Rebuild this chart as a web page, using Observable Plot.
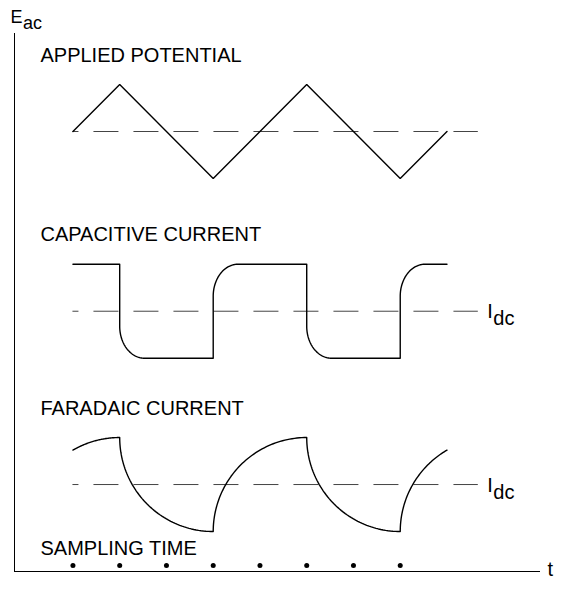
<!DOCTYPE html>
<html>
<head>
<meta charset="utf-8">
<script src="https://cdn.jsdelivr.net/npm/d3@7"></script>
<script src="https://cdn.jsdelivr.net/npm/@observablehq/plot@0.6"></script>
<style>
  html, body { margin: 0; padding: 0; background: #fff; }
  svg { display: block; }
</style>
</head>
<body>
<div id="chart"></div>
<script>
// ---- data (time in sampling intervals, signal in units of its amplitude) ----
const sampleTimes = [0, 1, 2, 3, 4, 5, 6, 7];

const potentialT = [0, 1, 3, 5, 7, 8];
const potentialV = [0, 1, -1, 1, -1, 0];

const capacitiveT = [0, 1, 1, 1.53, 3, 3, 3.53, 5, 5, 5.53, 7, 7, 7.53, 8];
const capacitiveV = [1, 1, -0.32, -1, -1, 0.32, 1, 1, -0.32, -1, -1, 0.32, 1, 1];

// faradaic current: extremes of each arc (shown only over the potential's span)
const faradaicT = [-1, 1, 3, 5, 7, 9];
const faradaicV = [-1, 1, -1, 1, -1, 1];

const panelLabels = ["APPLIED POTENTIAL", "CAPACITIVE CURRENT", "FARADAIC CURRENT"];
const samplingLabel = "SAMPLING TIME";
const yAxisLabel = ["E", "ac"];
const dcLabel = ["I", "dc"];
const xAxisLabel = "t";

// ---- layout (positions of the stacked panels on the shared y scale) ----
const layout = {
  width: 582, height: 602,
  marginLeft: 14, marginRight: 42, marginTop: 33, marginBottom: 31,
  base: [0, -3.823, -7.51],   // potential, capacitive, faradaic zero lines
  sampleRow: -9.233,
  xMin: -1.25, xMax: 10,
  yMin: -9.36, yMax: 2.085,
  labelX: -0.695,
  dashEnd: 8.67
};

// pixel position of a time value (same mapping as the plot's x scale)
const xPx = t => layout.marginLeft + (t - layout.xMin) / (layout.xMax - layout.xMin) *
  (layout.width - layout.marginLeft - layout.marginRight);

// curve: each join leaves a vertex vertically and arrives at the next horizontally
// (quarter ellipse), drawn only between pixel columns xa and xb
const arcCurve = (xa = -Infinity, xb = Infinity) => (context) => {
  let pts;
  return {
    areaStart() {}, areaEnd() {},
    lineStart() { pts = []; },
    point(x, y) { pts.push([+x, +y]); },
    lineEnd() {
      let started = false;
      const emit = (x, y) => {
        if (!started) { context.moveTo(x, y); started = true; } else context.lineTo(x, y);
      };
      for (let i = 1; i < pts.length; ++i) {
        const [x0, y0] = pts[i - 1], [x1, y1] = pts[i];
        const a = x1 - x0, b = y1 - y0;
        if (a === 0) {
          if (x0 >= xa && x0 <= xb) { emit(x0, y0); emit(x1, y1); }
          continue;
        }
        const lo = Math.max(x0, xa), hi = Math.min(x1, xb);
        if (hi < lo) continue;
        if (b === 0) { emit(lo, y0); emit(hi, y1); continue; }
        const th0 = Math.acos(Math.min(1, Math.max(0, (x1 - lo) / a)));
        const th1 = Math.acos(Math.min(1, Math.max(0, (x1 - hi) / a)));
        const n = 60;
        for (let j = 0; j <= n; ++j) {
          const th = th0 + (th1 - th0) * j / n;
          emit(x1 - a * Math.cos(th), y0 + b * Math.sin(th));
        }
      }
    }
  };
};

const potential = potentialT.map((t, i) => ({t, v: potentialV[i] + layout.base[0]}));
const capacitive = capacitiveT.map((t, i) => ({t, v: capacitiveV[i] + layout.base[1]}));
const faradaic = faradaicT.map((t, i) => ({t, v: faradaicV[i] + layout.base[2]}));
const samples = sampleTimes.map(t => ({t, v: layout.sampleRow}));
const titles = panelLabels.map((label, i) => ({label, v: layout.base[i]}));
const dcRows = [layout.base[1], layout.base[2]].map(v => ({v}));
const baseRows = layout.base.map(v => ({v}));
const [tA, tB] = d3.extent(potentialT);

const font = "'Liberation Sans', Arial, Helvetica, sans-serif";
const ink = "black";

const plot = Plot.plot({
  width: layout.width,
  height: layout.height,
  marginLeft: layout.marginLeft, marginRight: layout.marginRight,
  marginTop: layout.marginTop, marginBottom: layout.marginBottom,
  x: {domain: [layout.xMin, layout.xMax], axis: null},
  y: {domain: [layout.yMin, layout.yMax], axis: null},
  style: {fontFamily: font, fontSize: "20px", background: "white", color: ink, overflow: "visible"},
  marks: [
    Plot.ruleX([layout.xMin], {stroke: ink, strokeWidth: 1}),
    Plot.ruleY([layout.yMin], {stroke: ink, strokeWidth: 1}),
    Plot.ruleY(baseRows, {x1: 0, x2: layout.dashEnd, y: "v", stroke: "#444", strokeWidth: 1,
      strokeDasharray: "25,15", strokeDashoffset: 19}),
    Plot.line(potential, {x: "t", y: "v", stroke: ink, strokeWidth: 1.4, strokeLinejoin: "miter"}),
    Plot.line(capacitive, {x: "t", y: "v", stroke: ink, strokeWidth: 1.4, curve: arcCurve()}),
    Plot.line(faradaic, {x: "t", y: "v", stroke: ink, strokeWidth: 1.4,
      curve: arcCurve(xPx(tA), xPx(tB))}),
    Plot.dot(samples, {x: "t", y: "v", r: 2.5, fill: ink, stroke: null}),
    Plot.text(titles, {x: layout.labelX, y: "v", text: "label", textAnchor: "start", lineAnchor: "bottom",
      dy: -70, fontSize: 20, fill: ink}),
    Plot.text([samplingLabel], {x: layout.labelX, y: layout.sampleRow, text: d => d, textAnchor: "start",
      lineAnchor: "bottom", dy: -11, fontSize: 20, fill: ink}),
    Plot.text([yAxisLabel[0]], {x: layout.xMin, y: layout.yMax, text: d => d, textAnchor: "start",
      lineAnchor: "bottom", dx: -4, dy: -11, fontSize: 18, fill: ink}),
    Plot.text([yAxisLabel[1]], {x: layout.xMin, y: layout.yMax, text: d => d, textAnchor: "start",
      lineAnchor: "bottom", dx: 8.5, dy: -5, fontSize: 18, fill: ink}),
    Plot.text(dcRows, {x: layout.dashEnd, y: "v", text: () => dcLabel[0], textAnchor: "start",
      lineAnchor: "bottom", dx: 9, dy: 7, fontSize: 20, fill: ink}),
    Plot.text(dcRows, {x: layout.dashEnd, y: "v", text: () => dcLabel[1], textAnchor: "start",
      lineAnchor: "bottom", dx: 15, dy: 14, fontSize: 20, fill: ink}),
    Plot.text([xAxisLabel], {x: layout.xMax, y: layout.yMin, text: d => d, textAnchor: "start",
      lineAnchor: "bottom", dx: 7, dy: 4, fontSize: 20, fill: ink})
  ]
});

document.getElementById("chart").appendChild(plot);
</script>
</body>
</html>
